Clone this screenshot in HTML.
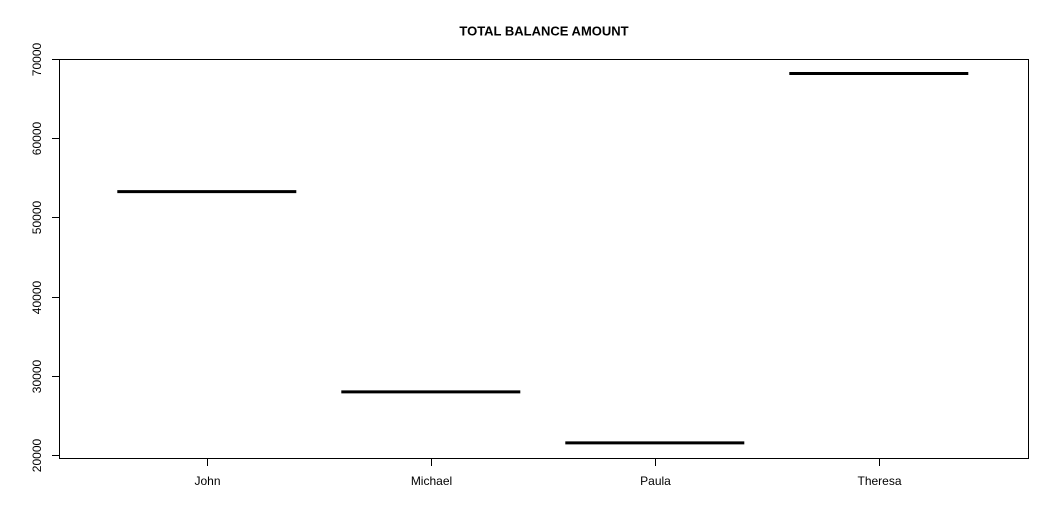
<!DOCTYPE html>
<html><head><meta charset="utf-8"><style>
html,body{margin:0;padding:0;background:#fff;}
svg{display:block;font-family:"Liberation Sans",Arial,sans-serif;}
</style></head><body>
<svg id="chart" width="1059" height="532" viewBox="0 0 1059 532" xmlns="http://www.w3.org/2000/svg">
<text x="544" y="35.5" text-anchor="middle" font-size="13" font-weight="bold">TOTAL BALANCE AMOUNT</text>
<rect x="59.5" y="59.5" width="969" height="399" fill="none" stroke="#000" stroke-width="1"/>
<g id="yaxis"></g>
<g id="xaxis"></g>
<g id="marks"></g>
</svg>
<script>
const categories = ["John", "Michael", "Paula", "Theresa"];
const balances = [53260, 27940, 21490, 68200];
const yTicks = [20000, 30000, 40000, 50000, 60000, 70000];

const NS = "http://www.w3.org/2000/svg";
function y(v){ return 454.7 - (v - 20000) / 10000 * 79.1; }
function x(i){ return 207.3 + i * 224; }
function mk(tag, attrs, parent){
  const e = document.createElementNS(NS, tag);
  for (const k in attrs) e.setAttribute(k, attrs[k]);
  parent.appendChild(e);
  return e;
}
const ya = document.getElementById('yaxis');
yTicks.forEach(t => {
  const yy = Math.round(y(t)) + 0.5;
  const l = mk('line', {x1: 52, x2: 59.5, y1: yy, y2: yy, stroke: '#000'}, ya);
  
  
  const tx = mk('text', {x: 0, y: 0, 'font-size': 12, 'text-anchor': 'middle',
    transform: `translate(41,${yy}) rotate(-90)`}, ya);
  tx.textContent = t;
  
  
});
const xa = document.getElementById('xaxis');
categories.forEach((c, i) => {
  const xx = Math.round(x(i)) + 0.5;
  const l = mk('line', {x1: xx, x2: xx, y1: 458.5, y2: 466, stroke: '#000'}, xa);
  
  
  const tx = mk('text', {x: xx, y: 485, 'font-size': 12, 'text-anchor': 'middle'}, xa);
  tx.textContent = c;
  
  
});
const mg = document.getElementById('marks');
balances.forEach((v, i) => {
  const xx = x(i);
  const l = mk('line', {x1: xx - 90, x2: xx + 89, y1: y(v), y2: y(v), stroke: '#000', 'stroke-width': 3}, mg);
  
  
});
</script>
</body></html>
